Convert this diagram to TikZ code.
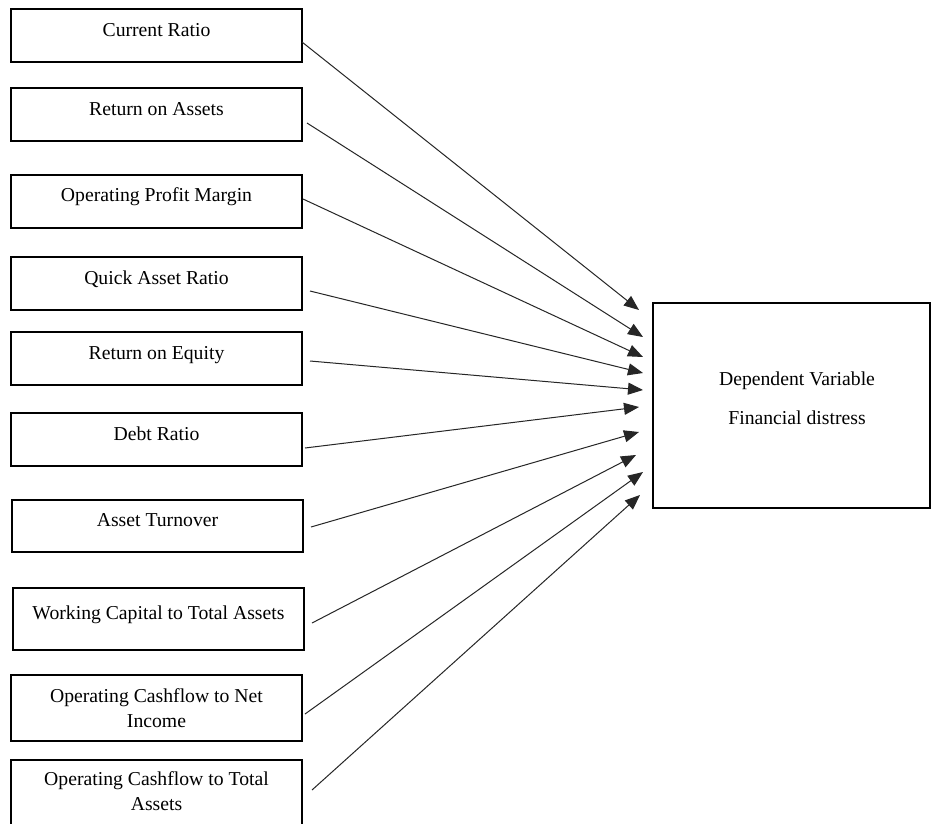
\documentclass[tikz,border=0pt]{standalone}
\usepackage{fontspec}
\setmainfont{Liberation Serif}
\usetikzlibrary{arrows.meta}
\begin{document}
\begin{tikzpicture}[x=1pt,y=-1pt,
  varbox/.style={draw=black,line width=1.6pt,anchor=north west,inner sep=0pt,outer sep=0pt},
  lbl/.style={anchor=base,inner sep=0pt,font=\fontsize{19.7}{25}\selectfont},
  conn/.style={line width=1pt,draw=black!85,-{Triangle[length=15pt,width=12pt]}}]
\useasboundingbox (0,0) rectangle (932,823);
\clip (0,0) rectangle (932,823);
\fill[white] (0,0) rectangle (932,823);
% left boxes
\node[varbox,minimum width=291pt,minimum height=53pt] (b1) at (11,9) {};
\node[varbox,minimum width=291pt,minimum height=53pt] (b2) at (11,88) {};
\node[varbox,minimum width=291pt,minimum height=53pt] (b3) at (11,175) {};
\node[varbox,minimum width=291pt,minimum height=53pt] (b4) at (11,257) {};
\node[varbox,minimum width=291pt,minimum height=53pt] (b5) at (11,332) {};
\node[varbox,minimum width=291pt,minimum height=53pt] (b6) at (11,413) {};
\node[varbox,minimum width=291pt,minimum height=52pt] (b7) at (12,500) {};
\node[varbox,minimum width=291pt,minimum height=62pt] (b8) at (13,588) {};
\node[varbox,minimum width=291pt,minimum height=66pt] (b9) at (11,675) {};
\node[varbox,minimum width=291pt,minimum height=70pt] (b10) at (11,760) {};
% labels
\node[lbl] (l1) at (156.5,36) {Current Ratio};
\node[lbl] (l2) at (156.5,115) {Return on Assets};
\node[lbl] (l3) at (156.5,201) {Operating Profit Margin};
\node[lbl] (l4) at (156.5,284) {Quick Asset Ratio};
\node[lbl] (l5) at (156.5,359) {Return on Equity};
\node[lbl] (l6) at (156.5,440) {Debt Ratio};
\node[lbl] (l7) at (157.5,526) {Asset Turnover};
\node[lbl] (l8) at (158.5,619) {Working Capital to Total Assets};
\node[lbl] (l9a) at (156.5,702) {Operating Cashflow to Net};
\node[lbl] (l9b) at (156.5,727) {Income};
\node[lbl] (l10a) at (156.5,785) {Operating Cashflow to Total};
\node[lbl] (l10b) at (156.5,810) {Assets};
% right box
\node[varbox,minimum width=277pt,minimum height=205pt] (dv) at (653,303) {};
\node[lbl] (dv1) at (797,385) {Dependent Variable};
\node[lbl] (dv2) at (797,424) {Financial distress};
% connector ends
\coordinate (s1) at (302,42);  \coordinate (t1) at (639,310);
\coordinate (s2) at (307,123); \coordinate (t2) at (643,337);
\coordinate (s3) at (303,199); \coordinate (t3) at (643,357);
\coordinate (s4) at (310,291); \coordinate (t4) at (643,373);
\coordinate (s5) at (310,361); \coordinate (t5) at (643,390);
\coordinate (s6) at (305,448); \coordinate (t6) at (639,407);
\coordinate (s7) at (311,527); \coordinate (t7) at (639,432);
\coordinate (s8) at (312,623); \coordinate (t8) at (636,455);
\coordinate (s9) at (305,714); \coordinate (t9) at (643,472);
\coordinate (s10) at (312,790); \coordinate (t10) at (640,495);
\foreach \i in {1,...,10} {\draw[conn] (s\i) -- (t\i);}
\end{tikzpicture}
\end{document}
